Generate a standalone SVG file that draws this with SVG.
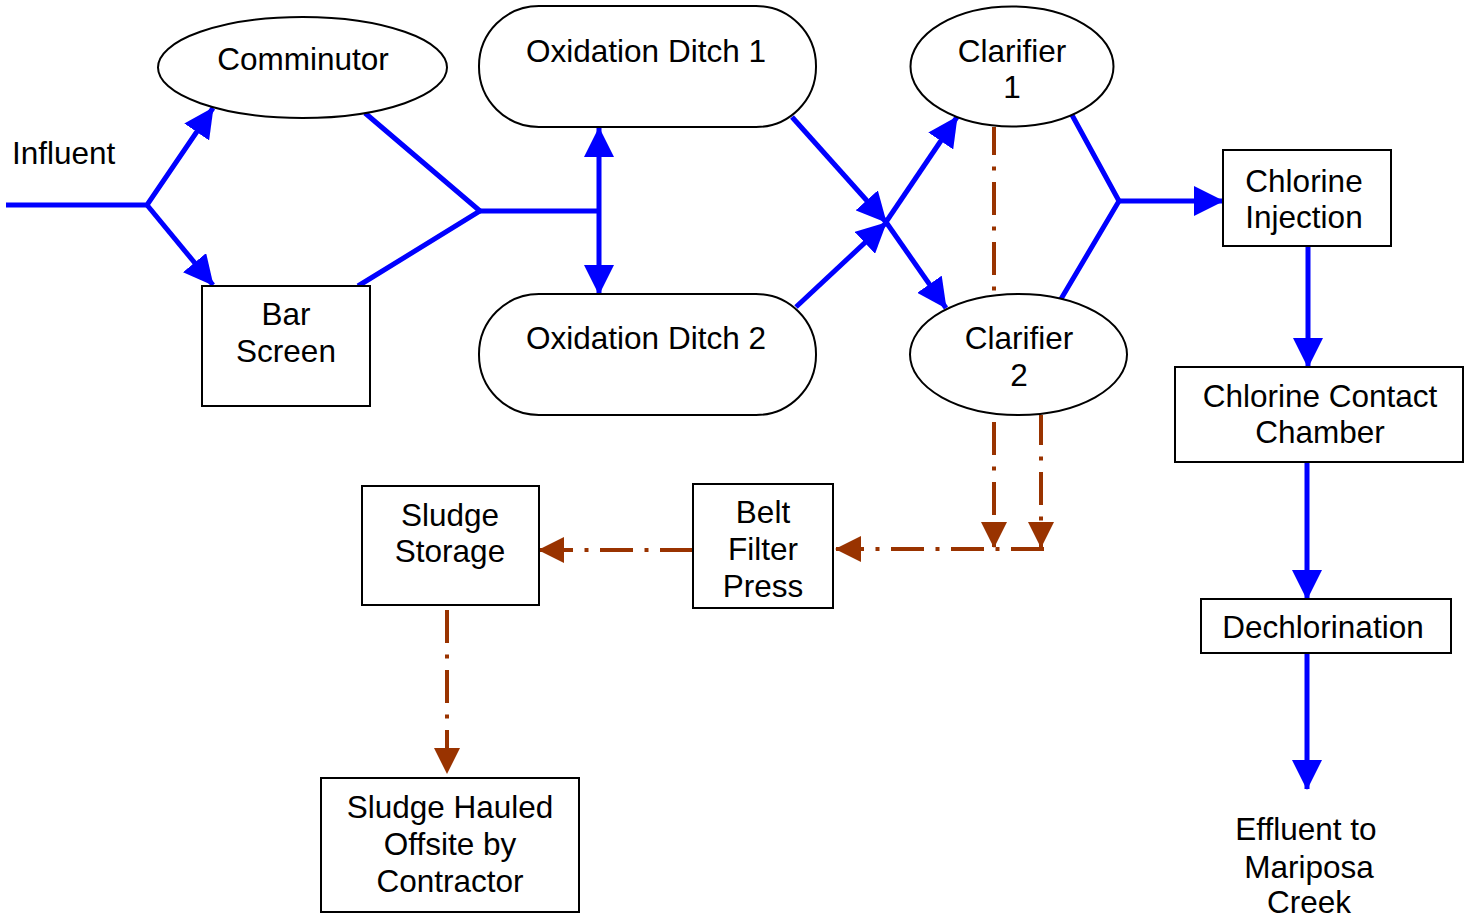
<svg xmlns="http://www.w3.org/2000/svg" width="1473" height="922" viewBox="0 0 1473 922">
  <style>
    .node { fill: #ffffff; stroke: #000000; stroke-width: 2; }
    .label { font-family: "Liberation Sans", Arial, sans-serif; font-size: 31.5px; fill: #000000; text-anchor: middle; }
    .flow { fill: none; stroke: #0000ff; stroke-width: 5; stroke-linejoin: miter; }
    .sludge { fill: none; stroke: #993300; stroke-width: 4; stroke-dasharray: 33 11.5 4 11.5; }
  </style>
  <defs>
    <marker id="blueHead" markerUnits="userSpaceOnUse" markerWidth="30" markerHeight="30" refX="29" refY="15" orient="auto-start-reverse">
      <path d="M0,0 L30,15 L0,30 Z" fill="#0000ff"/>
    </marker>
    <marker id="brownHead" markerUnits="userSpaceOnUse" markerWidth="26" markerHeight="26" refX="25" refY="13" orient="auto">
      <path d="M0,0 L26,13 L0,26 Z" fill="#993300"/>
    </marker>
  </defs>

  <rect width="1473" height="922" fill="#ffffff"/>

  <!-- connectors drawn first so node fills sit on top -->
  <g id="connectors">
    <!-- main liquid stream -->
    <path class="flow" d="M6,205 L147,205 L213,108" marker-end="url(#blueHead)"/>
    <path class="flow" d="M147,205 L213,285" marker-end="url(#blueHead)"/>
    <path class="flow" d="M365,113 L480,211 L358,286"/>
    <path class="flow" d="M480,211 L599,211"/>
    <path class="flow" d="M599,128 L599,294" marker-start="url(#blueHead)" marker-end="url(#blueHead)"/>
    <path class="flow" d="M792,117 L886,222" marker-end="url(#blueHead)"/>
    <path class="flow" d="M796,307 L886,223" marker-end="url(#blueHead)"/>
    <path class="flow" d="M886,222 L957,117" marker-end="url(#blueHead)"/>
    <path class="flow" d="M886,222 L946,308" marker-end="url(#blueHead)"/>
    <path class="flow" d="M1072,115 L1119,201 L1061,299"/>
    <path class="flow" d="M1119,201 L1223,201" marker-end="url(#blueHead)"/>
    <path class="flow" d="M1308,247 L1308,367" marker-end="url(#blueHead)"/>
    <path class="flow" d="M1307,463 L1307,599" marker-end="url(#blueHead)"/>
    <path class="flow" d="M1307,653 L1307,789" marker-end="url(#blueHead)"/>

    <!-- sludge stream -->
    <path class="sludge" d="M994,127 L994,547" stroke-dashoffset="5" marker-end="url(#brownHead)"/>
    <path class="sludge" d="M1041,415 L1041,547" stroke-dashoffset="3" marker-end="url(#brownHead)"/>
    <path class="sludge" d="M1044,549 L836,549" marker-end="url(#brownHead)"/>
    <path class="sludge" d="M693,550 L539,550" marker-end="url(#brownHead)"/>
    <path class="sludge" d="M447,610 L447,773" marker-end="url(#brownHead)"/>
  </g>

  <text class="label" x="12" y="164" style="text-anchor:start">Influent</text>

  <g id="comminutor">
    <ellipse class="node" cx="302.5" cy="67.5" rx="144.5" ry="50.5"/>
    <text class="label" x="303" y="70">Comminutor</text>
  </g>

  <g id="bar-screen">
    <rect class="node" x="202" y="286" width="168" height="120"/>
    <text class="label" x="286" y="325">Bar</text>
    <text class="label" x="286" y="362">Screen</text>
  </g>

  <g id="oxidation-ditch-1">
    <rect class="node" x="479" y="6" width="337" height="121" rx="60" ry="60"/>
    <text class="label" x="646" y="62">Oxidation Ditch 1</text>
  </g>

  <g id="oxidation-ditch-2">
    <rect class="node" x="479" y="294" width="337" height="121" rx="60" ry="60"/>
    <text class="label" x="646" y="349">Oxidation Ditch 2</text>
  </g>

  <g id="clarifier-1">
    <ellipse class="node" cx="1012" cy="66.5" rx="101.5" ry="60"/>
    <text class="label" x="1012" y="62">Clarifier</text>
    <text class="label" x="1012" y="98">1</text>
  </g>

  <g id="clarifier-2">
    <ellipse class="node" cx="1018.5" cy="354.5" rx="108.5" ry="60.5"/>
    <text class="label" x="1019" y="349">Clarifier</text>
    <text class="label" x="1019" y="386">2</text>
  </g>

  <g id="chlorine-injection">
    <rect class="node" x="1223" y="150" width="168" height="96"/>
    <text class="label" x="1304" y="192">Chlorine</text>
    <text class="label" x="1304" y="228">Injection</text>
  </g>

  <g id="chlorine-contact-chamber">
    <rect class="node" x="1175" y="367" width="288" height="95"/>
    <text class="label" x="1320" y="407">Chlorine Contact</text>
    <text class="label" x="1320" y="443">Chamber</text>
  </g>

  <g id="dechlorination">
    <rect class="node" x="1201" y="599" width="250" height="54"/>
    <text class="label" x="1323" y="638">Dechlorination</text>
  </g>

  <g id="effluent">
    <text class="label" x="1306" y="840">Effluent to</text>
    <text class="label" x="1309" y="878">Mariposa</text>
    <text class="label" x="1309" y="913">Creek</text>
  </g>

  <g id="belt-filter-press">
    <rect class="node" x="693" y="484" width="140" height="124"/>
    <text class="label" x="763" y="523">Belt</text>
    <text class="label" x="763" y="560">Filter</text>
    <text class="label" x="763" y="597">Press</text>
  </g>

  <g id="sludge-storage">
    <rect class="node" x="362" y="486" width="177" height="119"/>
    <text class="label" x="450" y="526">Sludge</text>
    <text class="label" x="450" y="562">Storage</text>
  </g>

  <g id="sludge-hauled">
    <rect class="node" x="321" y="778" width="258" height="134"/>
    <text class="label" x="450" y="818">Sludge Hauled</text>
    <text class="label" x="450" y="855">Offsite by</text>
    <text class="label" x="450" y="892">Contractor</text>
  </g>
</svg>
